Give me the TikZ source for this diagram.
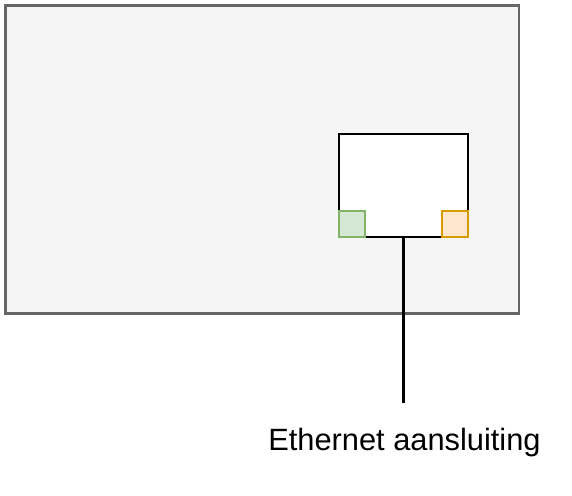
\documentclass[tikz,border=0pt]{standalone}
\usepackage{fontspec}
\setmainfont{Liberation Sans}
\definecolor{boxfill}{HTML}{F5F5F5}
\definecolor{boxline}{HTML}{666666}
\definecolor{gfill}{HTML}{D5E8D4}
\definecolor{gline}{HTML}{82B366}
\definecolor{ofill}{HTML}{FFE6CC}
\definecolor{oline}{HTML}{D79B00}
\begin{document}
\begin{tikzpicture}[x=1pt,y=-1pt,
  base/.style={draw,line width=2.2pt,inner sep=0pt,outer sep=0pt,rectangle},
  outerbox/.style={base,draw=boxline,fill=boxfill,minimum width=513.5pt,minimum height=308pt},
  innerbox/.style={base,draw=black,fill=white,minimum width=129pt,minimum height=103pt},
  greenport/.style={base,draw=gline,fill=gfill,minimum width=26pt,minimum height=26pt},
  orangeport/.style={base,draw=oline,fill=ofill,minimum width=26pt,minimum height=26pt},
  wire/.style={draw=black,line width=2.2pt},
  lbl/.style={inner sep=0pt,font=\fontsize{30.8}{36}\selectfont}]
\useasboundingbox (0,0) rectangle (572,495);
\node[outerbox] (board) at (262.25,159.5) {};
\node[innerbox] (module) at (403.5,185.5) {};
\node[greenport] (green) at (352,224) {};
\node[orangeport] (orange) at (455,224) {};
\coordinate (wireend) at (403.5,403);
\draw[wire] (module.south) -- (wireend);
\node[lbl,anchor=base] (label) at (404.5,450.5) {Ethernet aansluiting};
\end{tikzpicture}
\end{document}
